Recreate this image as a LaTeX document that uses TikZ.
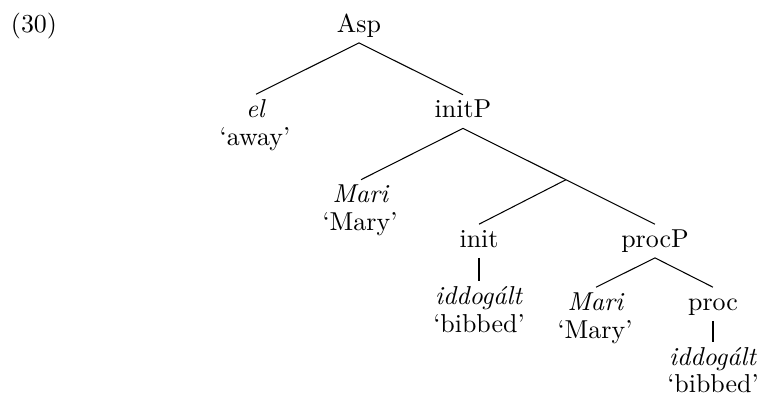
\documentclass[tikz,border=0pt]{standalone}
\usetikzlibrary{calc}
\tikzset{
  word/.style={inner sep=0pt, outer sep=0pt, anchor=base, text height=8.8pt, text depth=4.2pt, font=\fontsize{10}{12}\selectfont},
  gloss/.style={inner sep=0pt, anchor=base, font=\fontsize{10}{12}\selectfont},
  branch/.style={line width=0.4pt}
}
\begin{document}
\begin{tikzpicture}[x=0.386pt, y=-0.386pt]
\useasboundingbox (0,0) rectangle (758,403);
\node[gloss] (num) at (34,32) {(30)};
\node[word] (asp) at (359,32) {Asp};
\node[word] (el) at (256,117) {\textit{el}};
\node[gloss] (elg) at (255,145) {`away'};
\node[word] (initP) at (463,117.5) {initP};
\node[word] (mari1) at (361,202.5) {\textit{Mari}};
\node[gloss] (mary1) at (360,230) {`Mary'};
\node[word] (init) at (479,247) {init};
\node[word] (procP) at (655,247) {procP};
\node[word] (idd1) at (479,304) {\textit{iddog\'alt}};
\node[gloss] (bib1) at (479,332.5) {`bibbed'};
\node[word] (mari2) at (596,310) {\textit{Mari}};
\node[gloss] (mary2) at (595,338) {`Mary'};
\node[word] (proc) at (713,310) {proc};
\node[word] (idd2) at (713,365) {\textit{iddog\'alt}};
\node[gloss] (bib2) at (713,392) {`bibbed'};
\coordinate (j) at ($(initP.south)!0.536!(procP.north)$);
\draw[branch] (el.north) -- (asp.south) -- (initP.north);
\draw[branch] (mari1.north) -- (initP.south) -- (procP.north);
\draw[branch] (j) -- (init.north);
\draw[branch] (init.south) -- (idd1.north);
\draw[branch] (mari2.north) -- (procP.south) -- (proc.north);
\draw[branch] (proc.south) -- (idd2.north);
\end{tikzpicture}
\end{document}
